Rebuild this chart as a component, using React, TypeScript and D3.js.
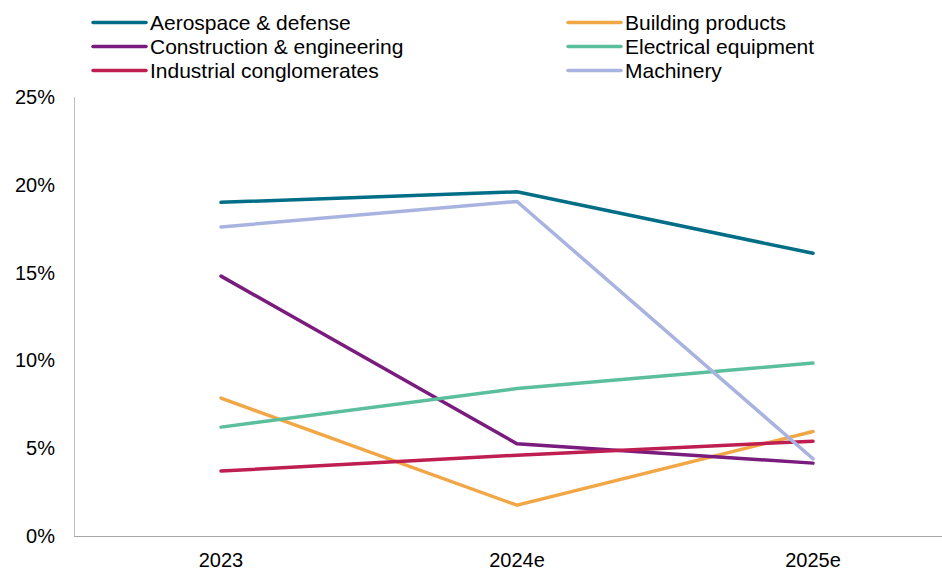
import React from "react";
import * as d3 from "d3";

const categories = ["2023", "2024e", "2025e"];
const seriesNames = [
  "Aerospace & defense",
  "Building products",
  "Construction & engineering",
  "Electrical equipment",
  "Industrial conglomerates",
  "Machinery",
];
const aerospace = [19.0, 19.6, 16.1];
const building = [7.85, 1.75, 5.95];
const construction = [14.8, 5.25, 4.15];
const electrical = [6.2, 8.4, 9.85];
const industrial = [3.7, 4.6, 5.4];
const machinery = [17.6, 19.05, 4.4];
const colors = ["#006E87", "#F2A746", "#7A1B7E", "#5BBE9D", "#BE1E50", "#A9B3DF"];
const yTicks = [0, 5, 10, 15, 20, 25];

const seriesValues = [aerospace, building, construction, electrical, industrial, machinery];

export default function App() {
  const W = 942, H = 569;
  const x = d3.scalePoint<string>().domain(categories).range([221, 813]);
  const y = d3.scaleLinear().domain([0, 25]).range([536, 97]);
  const line = d3
    .line<number>()
    .x((_, i) => x(categories[i]) as number)
    .y((d) => y(d));
  const font = "'Liberation Sans', Arial, sans-serif";
  return (
    <svg
      width={W}
      height={H}
      style={{ position: "absolute", left: 0, top: 0, background: "#fff" }}
      fontFamily={font}
    >
      <line x1={74.5} x2={74.5} y1={97} y2={536} stroke="#BFBFBF" strokeWidth={1} />
      <line x1={74} x2={942} y1={536.5} y2={536.5} stroke="#A6A6A6" strokeWidth={1} />
      {yTicks.map((t) => (
        <text key={t} x={55} y={y(t) + 7} textAnchor="end" fontSize={20} fill="#000">
          {t}%
        </text>
      ))}
      {categories.map((c) => (
        <text key={c} x={x(c)} y={567} textAnchor="middle" fontSize={20} fill="#000">
          {c}
        </text>
      ))}
      {seriesValues.map((vals, i) => (
        <path
          key={seriesNames[i]}
          d={line(vals) || ""}
          fill="none"
          stroke={colors[i]}
          strokeWidth={3.5}
          strokeLinecap="round"
          strokeLinejoin="miter"
        />
      ))}
      {seriesNames.map((name, i) => {
        const col = i % 2;
        const row = Math.floor(i / 2);
        const lx = col === 0 ? 93 : 568;
        const ly = 22.5 + row * 24;
        return (
          <g key={name}>
            <line x1={lx} x2={lx + 53} y1={ly} y2={ly} stroke={colors[i]} strokeWidth={3.5} strokeLinecap="round" />
            <text x={lx + 57} y={ly + 7.5} fontSize={21} fill="#000">
              {name}
            </text>
          </g>
        );
      })}
    </svg>
  );
}
